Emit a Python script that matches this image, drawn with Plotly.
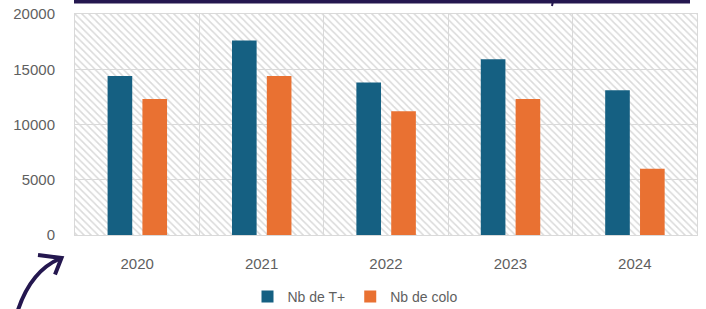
import plotly.graph_objects as go

# ---- data ----
years = ["2020", "2021", "2022", "2023", "2024"]
nb_tplus = [14400, 17600, 13800, 15900, 13100]
nb_colo = [12300, 14400, 11200, 12300, 6000]
series_names = ["Nb de T+", "Nb de colo"]
y_ticks = [0, 5000, 10000, 15000, 20000]

# ---- layout geometry (pixels) ----
W, H = 706, 309
ML, MR, MT, MB = 75, 9, 14, 74
PW, PH = W - ML - MR, H - MT - MB

def px(x):
    return (x - ML) / PW

def py(y):
    return (H - MB - y) / PH

BLUE = "#156082"
ORANGE = "#E97132"
GRID = "#d9d9d9"
TXT = "#5f5f5f"
INK = "#24174f"
FONT = "Liberation Sans, Arial, sans-serif"

fig = go.Figure()

# hatched plot-area background
fig.add_trace(go.Bar(
    x=years, y=[y_ticks[-1]] * len(years), width=1, offset=-0.5,
    marker=dict(color="rgba(0,0,0,0)", line=dict(width=0),
                pattern=dict(shape="\\", fgcolor="#dadada", bgcolor="rgba(0,0,0,0)",
                             size=5, solidity=0.3, fillmode="replace")),
    hoverinfo="skip", showlegend=False,
))

fig.add_trace(go.Bar(
    x=years, y=nb_tplus, name=series_names[0], width=0.198, offset=-0.238,
    marker=dict(color=BLUE, line=dict(width=0)),
))
fig.add_trace(go.Bar(
    x=years, y=nb_colo, name=series_names[1], width=0.198, offset=0.042,
    marker=dict(color=ORANGE, line=dict(width=0)),
))

shapes = [
    # top dark rule (cropped element)
    dict(type="line", xref="paper", yref="paper", x0=px(74), x1=px(690), y0=py(1.7), y1=py(1.7),
         line=dict(color=INK, width=3.5)),
    dict(type="line", xref="paper", yref="paper", x0=px(553), x1=px(552), y0=py(1), y1=py(6),
         line=dict(color=INK, width=2)),
    # curved arrow shaft
    dict(type="path", xref="paper", yref="paper",
         path=f"M {px(18)},{py(310)} Q {px(31)},{py(271)} {px(60)},{py(258.5)}",
         line=dict(color=INK, width=4)),
    # arrow head
    dict(type="path", xref="paper", yref="paper",
         path=f"M {px(38)},{py(255)} L {px(61.5)},{py(258)} L {px(55)},{py(274.5)}",
         line=dict(color=INK, width=4)),
]

fig.update_layout(
    width=W, height=H,
    margin=dict(l=ML, r=MR, t=MT, b=MB),
    paper_bgcolor="white", plot_bgcolor="white",
    barmode="overlay",
    font=dict(family=FONT, size=15, color=TXT),
    showlegend=True,
    legend=dict(orientation="h", x=px(355), xanchor="center", y=1 - 297 / H,
                yref="container", yanchor="middle", font=dict(size=14, color=TXT),
                itemwidth=30, traceorder="normal", bgcolor="rgba(0,0,0,0)"),
    shapes=shapes,
)

fig.update_xaxes(
    type="category", categoryorder="array", categoryarray=years,
    tickson="boundaries", showgrid=True, gridcolor=GRID, gridwidth=1,
    showline=True, linecolor=GRID, linewidth=1, mirror=True,
    ticks="", tickfont=dict(size=15, color=TXT), ticklabelstandoff=15,
    range=[-0.5, len(years) - 0.5], automargin=False,
)
fig.update_yaxes(
    range=[y_ticks[0], y_ticks[-1]], tickvals=y_ticks, tickformat="d",
    showgrid=True, gridcolor=GRID, gridwidth=1, zeroline=False,
    showline=True, linecolor=GRID, linewidth=1, mirror=True,
    ticks="", tickfont=dict(size=15, color=TXT), ticklabelstandoff=16,
    automargin=False,
)

fig.write_html("out.html", config={"displayModeBar": False},
               post_script="document.body.style.margin='0';")
